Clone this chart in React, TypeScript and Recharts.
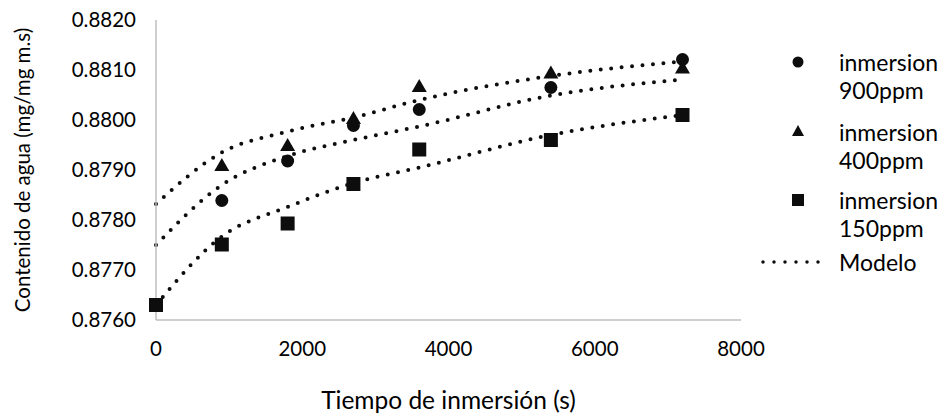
import { ComposedChart, Line, XAxis, YAxis, Legend } from 'recharts';

// tiempo de inmersion (s)
const times = [0, 900, 1800, 2700, 3600, 5400, 7200];

// puntos experimentales
const ppm900 = [null, 0.87839, 0.87918, 0.87989, 0.88021, 0.88065, 0.88121];
const ppm400 = [null, 0.8791, 0.8795, 0.88004, 0.88068, 0.88095, 0.88105];
const ppm150 = [0.8763, 0.87751, 0.87793, 0.87872, 0.87941, 0.8796, 0.8801];

// curvas del modelo
const modeloSup = [0.87832, 0.87935, 0.87977, 0.88005, 0.8804, 0.88088, 0.88117];
const modeloMed = [0.8775, 0.8787, 0.87928, 0.8796, 0.87987, 0.88049, 0.88081];
const modeloInf = [0.8763, 0.87767, 0.87826, 0.87874, 0.87905, 0.8797, 0.8801];

const xTicks = [0, 2000, 4000, 6000, 8000];
const yTicks = [0.876, 0.877, 0.878, 0.879, 0.88, 0.881, 0.882];

const legendItems = [
  { name: 'inmersion 900ppm', kind: 'circle' },
  { name: 'inmersion 400ppm', kind: 'triangle' },
  { name: 'inmersion 150ppm', kind: 'square' },
  { name: 'Modelo', kind: 'line' },
];

const rows = times.map((t, i) => ({
  t,
  ppm900: ppm900[i],
  ppm400: ppm400[i],
  ppm150: ppm150[i],
  modeloSup: modeloSup[i],
  modeloMed: modeloMed[i],
  modeloInf: modeloInf[i],
}));

const INK = '#0d0d0d';
const dotted = { stroke: INK, strokeWidth: 4, strokeDasharray: '0 10.5', strokeLinecap: 'round' as const };

const CircleDot = (p: any) => {
  if (p.value == null || p.cy == null) return <g key={p.key} />;
  return <circle key={p.key} cx={p.cx} cy={p.cy} r={6.5} fill={INK} />;
};
const TriangleDot = (p: any) => {
  if (p.value == null || p.cy == null) return <g key={p.key} />;
  const { cx, cy } = p;
  return <polygon key={p.key} points={`${cx},${cy - 7} ${cx + 7.5},${cy + 6} ${cx - 7.5},${cy + 6}`} fill={INK} />;
};
const SquareDot = (p: any) => {
  if (p.value == null || p.cy == null) return <g key={p.key} />;
  return <rect key={p.key} x={p.cx - 7} y={p.cy - 7} width={14} height={14} fill={INK} />;
};

const icon = (kind: string) => {
  if (kind === 'circle') return <circle cx={45} cy={14} r={5.5} fill={INK} />;
  if (kind === 'triangle') return <polygon points="45,7 51,18 39,18" fill={INK} />;
  if (kind === 'square') return <rect x={39} y={8} width={12} height={12} fill={INK} />;
  return <line x1={10} y1={14} x2={76} y2={14} {...dotted} strokeWidth={3.5} strokeDasharray="0 11" />;
};

const legendTops = [8, 78, 146, 208];

const ChartLegend = () => (
  <div style={{ position: 'relative', width: 190, height: 250, fontSize: 23, color: '#000' }}>
    {legendItems.map((item, i) => (
      <div key={item.name} style={{ position: 'absolute', top: legendTops[i], left: 0, display: 'flex' }}>
        <svg width={86} height={28} style={{ flex: 'none' }}>{icon(item.kind)}</svg>
        <div style={{ lineHeight: '28px', width: 110, whiteSpace: 'nowrap' }}>
          {item.name.split(' ').map((w) => (
            <div key={w}>{w}</div>
          ))}
        </div>
      </div>
    ))}
  </div>
);

const XTitle = (props: any) => {
  const vb = props.viewBox;
  return (
    <text x={vb.x + vb.width / 2} y={391} textAnchor="middle" dominantBaseline="central" fontSize={24.5} fill="#000">
      Tiempo de inmersión (s)
    </text>
  );
};

const YTitle = (props: any) => {
  const vb = props.viewBox;
  const cx = 14;
  const cy = vb.y + vb.height / 2;
  return (
    <text x={cx} y={cy} transform={`rotate(-90 ${cx} ${cy})`} textAnchor="middle" dominantBaseline="central" fontSize={20.5} fill="#000">
      Contenido de agua (mg/mg m.s)
    </text>
  );
};

export default function App() {
  return (
    <div style={{ fontFamily: 'Lato, sans-serif' }}>
      <ComposedChart width={931} height={408} data={rows} margin={{ top: 12, right: 198, bottom: 16, left: 0 }}>
        <XAxis
          dataKey="t"
          type="number"
          domain={[0, 8000]}
          ticks={xTicks}
          axisLine={{ stroke: '#bfbfbf', strokeWidth: 1.5 }}
          tickLine={false}
          tickSize={0}
          tickMargin={21}
          tick={{ fill: '#000', fontSize: 20.5 }}
          height={80}
          label={{ content: XTitle }}
        />
        <YAxis
          type="number"
          domain={[0.876, 0.882]}
          ticks={yTicks}
          tickFormatter={(v: number) => v.toFixed(4)}
          axisLine={{ stroke: '#bfbfbf', strokeWidth: 1.5 }}
          tickLine={false}
          tickSize={0}
          tickMargin={20}
          tick={{ fill: '#000', fontSize: 20.5 }}
          width={148}
          label={{ content: YTitle }}
        />
        <Legend
          layout="horizontal"
          verticalAlign="middle"
          align="center"
          wrapperStyle={{ left: 745, top: 32, width: 190 }}
          content={ChartLegend}
        />
        <Line type="monotone" dataKey="modeloSup" {...dotted} dot={false} activeDot={false} isAnimationActive={false} legendType="none" />
        <Line type="monotone" dataKey="modeloMed" {...dotted} dot={false} activeDot={false} isAnimationActive={false} legendType="none" />
        <Line type="monotone" dataKey="modeloInf" {...dotted} dot={false} activeDot={false} isAnimationActive={false} legendType="none" />
        <Line dataKey="ppm900" stroke="none" dot={CircleDot} activeDot={false} isAnimationActive={false} />
        <Line dataKey="ppm400" stroke="none" dot={TriangleDot} activeDot={false} isAnimationActive={false} />
        <Line dataKey="ppm150" stroke="none" dot={SquareDot} activeDot={false} isAnimationActive={false} />
      </ComposedChart>
    </div>
  );
}
